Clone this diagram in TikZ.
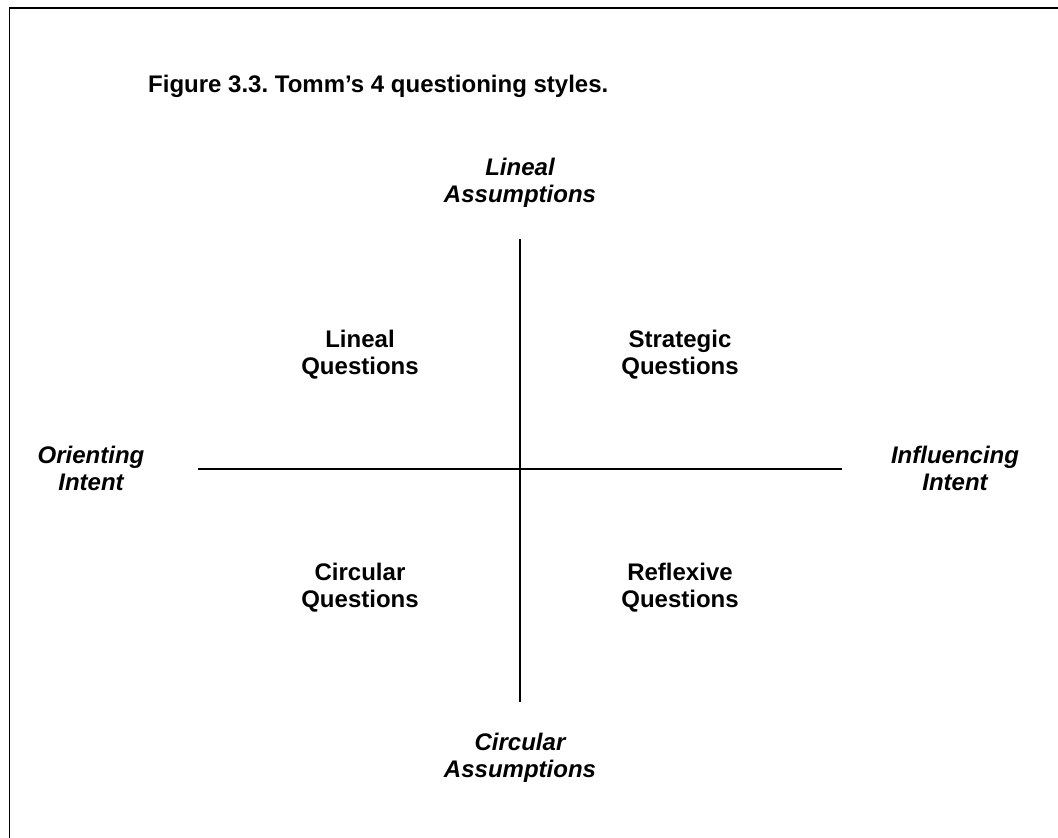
\documentclass[tikz,border=0pt]{standalone}
\usepackage{fontspec}
\setmainfont{Liberation Sans}
\frenchspacing
\begin{document}
\begin{tikzpicture}[x=1pt,y=-1pt,
  frame/.style={line width=1.5pt},
  axis/.style={line width=1.2pt},
  pole/.style={font=\fontsize{24}{27}\selectfont\bfseries\itshape, align=center, inner sep=0pt},
  quad/.style={font=\fontsize{24}{27}\selectfont\bfseries, align=center, inner sep=0pt},
  titlestyle/.style={font=\fontsize{24}{27}\selectfont\bfseries, inner sep=0pt, anchor=base west}]
\useasboundingbox (0,0) rectangle (1058,838);
% frame (clipped at right and bottom)
\coordinate (fbl) at (9.5,838);
\coordinate (ftl) at (9.5,8);
\coordinate (ftr) at (1058,8);
\draw[frame] (fbl) -- (ftl) -- (ftr);
% title
\node[titlestyle] (title) at (148,92) {Figure 3.3. Tomm’s 4 questioning styles.};
% axes
\coordinate (axL) at (198,469);
\coordinate (axR) at (842,469);
\coordinate (axT) at (520,239);
\coordinate (axB) at (520,702);
\draw[axis] (axL) -- (axR);
\draw[axis] (axT) -- (axB);
% pole labels
\node[pole] (lineal) at (520,183) {Lineal\\Assumptions};
\node[pole] (circular) at (520,758) {Circular\\Assumptions};
\node[pole] (orient) at (91,468) {Orienting\\Intent};
\node[pole] (influ) at (955,468) {Influencing\\Intent};
% quadrant labels
\node[quad] (lq) at (360,355) {Lineal\\Questions};
\node[quad] (sq) at (680,355) {Strategic\\Questions};
\node[quad] (cq) at (360,588) {Circular\\Questions};
\node[quad] (rq) at (680,588) {Reflexive\\Questions};
\end{tikzpicture}
\end{document}
